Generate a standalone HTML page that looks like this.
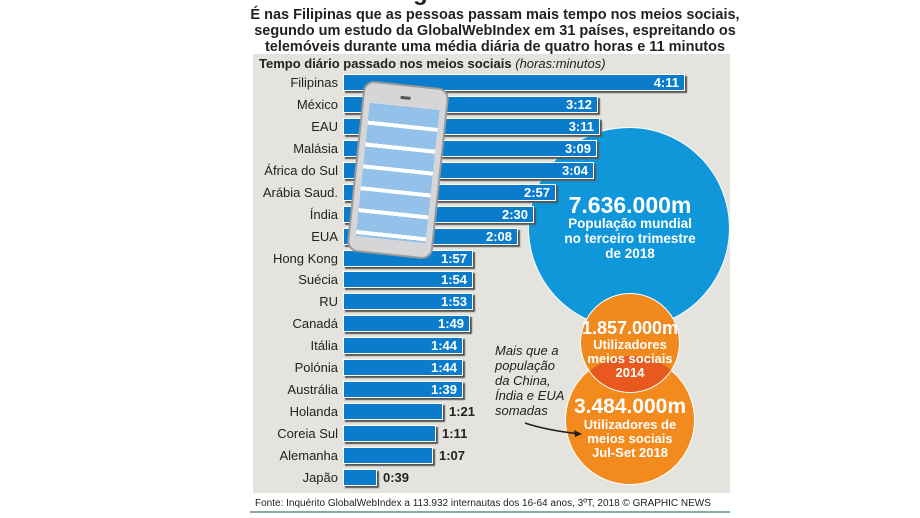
<!DOCTYPE html>
<html><head><meta charset="utf-8"><style>
body{margin:0;width:920px;height:518px;background:#fff;position:relative;overflow:hidden;font-family:"Liberation Sans",sans-serif}
.a{position:absolute}
.t{left:250px;width:490px;text-align:center;font-weight:bold;color:#222}
.lab{position:absolute;right:582px;font-size:13px;color:#222;text-align:right;white-space:nowrap}
.bar{position:absolute;left:343px;height:17px;background:#0a7ccc;border:1px solid #fff;box-shadow:2px 2px 1px #555;box-sizing:border-box;color:#fff;font-weight:bold;font-size:13px;text-align:right;padding-right:5px;line-height:16px}
.out{position:absolute;font-weight:bold;font-size:13px;color:#222}
.c{position:absolute;border-radius:50%;color:#fff;text-align:center;font-weight:bold}
</style></head><body>
<div class="a t" style="top:-21px;font-size:24px">Maior dos global dos meios sociais</div>
<div class="a t" style="top:7px;font-size:14.5px;line-height:16px">É nas Filipinas que as pessoas passam mais tempo nos meios sociais,<br>segundo um estudo da GlobalWebIndex em 31 países, espreitando os<br>telemóveis durante uma média diária de quatro horas e 11 minutos</div>
<div class="a" style="left:253px;top:54px;width:477px;height:439px;background:#e4e3de"></div>
<div class="a" style="left:259px;top:56px;font-size:13px;font-weight:bold;color:#222">Tempo diário passado nos meios sociais <i style="font-weight:normal">(horas:minutos)</i></div>
<div class="c" style="left:528px;top:127px;width:202px;height:202px;background:#0f97d9;border:1px solid #fff;box-sizing:border-box"></div>
<div id="bars"></div>
<div class="c" style="left:565px;top:355px;width:130px;height:130px;background:#f28a1e;border:1px solid #fff;box-sizing:border-box"></div>
<div class="c" style="left:580px;top:293px;width:100px;height:100px;background:#f08a1e;border:1px solid #fff;box-sizing:border-box;overflow:hidden"><div style="position:absolute;left:-15px;top:62px;width:130px;height:130px;border-radius:50%;background:#e8591f"></div></div>
<div class="c" style="left:527px;top:192px;width:206px;font-size:23px">7.636.000m</div>
<div class="c" style="left:527px;top:216px;width:206px;font-size:13.5px;line-height:15px">População mundial<br>no terceiro trimestre<br>de 2018</div>
<div class="c" style="left:570px;top:318px;width:120px;font-size:18px">1.857.000m</div>
<div class="c" style="left:570px;top:338px;width:120px;font-size:13px;line-height:14px">Utilizadores<br>meios sociais<br>2014</div>
<div class="c" style="left:560px;top:395px;width:140px;font-size:21px">3.484.000m</div>
<div class="c" style="left:560px;top:418px;width:140px;font-size:13px;line-height:14px">Utilizadores de<br>meios sociais<br>Jul-Set 2018</div>
<div class="a" style="left:495px;top:343px;font-size:13px;font-style:italic;line-height:15px;color:#222">Mais que a<br>população<br>da China,<br>Índia e EUA<br>somadas</div>
<svg class="a" style="left:520px;top:420px" width="70" height="20"><path d="M5 3 Q25 10 60 14" stroke="#222" stroke-width="1.5" fill="none"/><path d="M62 14 l-8 -4 l1 7z" fill="#222"/></svg>
<div class="a" style="left:355px;top:84px;width:86px;height:172px;transform:rotate(6deg);transform-origin:center;background:#d6d6d8;border:2px solid #999;border-radius:11px;box-sizing:border-box">
<div style="position:absolute;left:6px;top:20px;width:70px;height:134px;background:repeating-linear-gradient(#94c1ea 0 18px,#fff 18px 22px)"></div>
<div style="position:absolute;left:36px;top:10px;width:10px;height:3px;background:#555"></div>
</div>
<div class="a" style="left:255px;top:498px;font-size:10px;color:#222">Fonte: Inquérito GlobalWebIndex a 113.932 internautas dos 16-64 anos, 3ºT, 2018 © GRAPHIC NEWS</div>
<div class="a" style="left:250px;top:511px;width:480px;height:2px;background:#8aa"></div>
<script>
var d=[["Filipinas","4:11",685],["México","3:12",598],["EAU","3:11",600],["Malásia","3:09",597],["África do Sul","3:04",594],["Arábia Saud.","2:57",556],["Índia","2:30",534],["EUA","2:08",518],["Hong Kong","1:57",473],["Suécia","1:54",473],["RU","1:53",473],["Canadá","1:49",470],["Itália","1:44",463],["Polónia","1:44",463],["Austrália","1:39",463],["Holanda","1:21",443],["Coreia Sul","1:11",436],["Alemanha","1:07",433],["Japão","0:39",377]];
var h="";d.forEach(function(r,i){var y=74+i*21.94;
h+='<div class="lab" style="top:'+(y+1)+'px">'+r[0]+'</div>';
var out=i>=15;
h+='<div class="bar" style="top:'+y+'px;width:'+(r[2]-343)+'px">'+(out?'':r[1])+'</div>';
if(out)h+='<div class="out" style="left:'+(r[2]+6)+'px;top:'+(y+1)+'px">'+r[1]+'</div>';});
document.getElementById("bars").innerHTML=h;
</script>
</body></html>
